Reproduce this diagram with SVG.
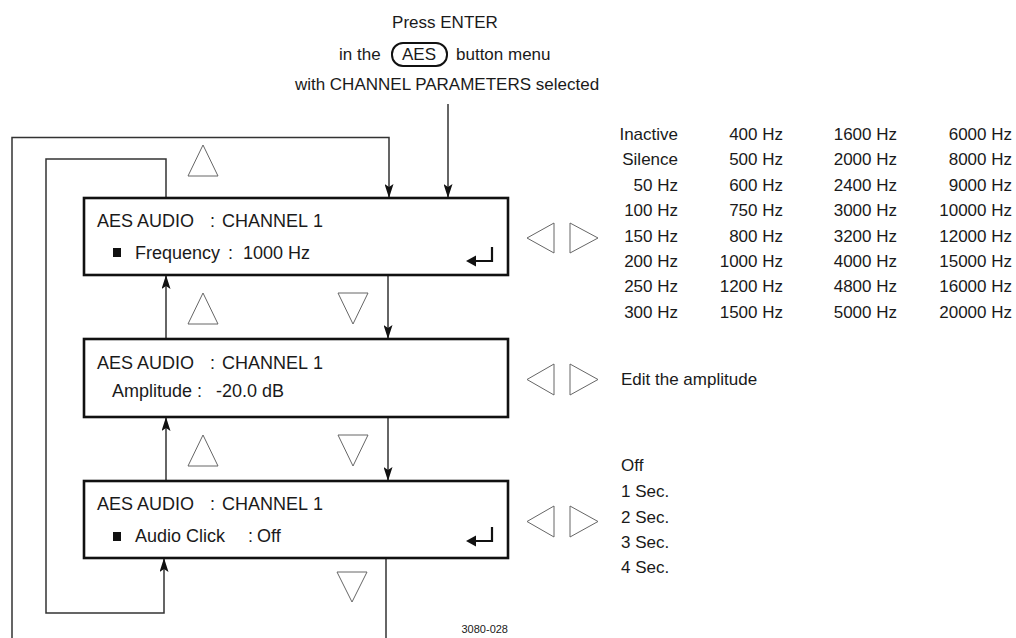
<svg xmlns="http://www.w3.org/2000/svg" width="1016" height="638" viewBox="0 0 1016 638">
<defs>
<style>
text{font-family:"Liberation Sans",Arial,sans-serif;fill:#1a1a1a}
.t{font-size:17px}
.b{font-size:18px}
.r{text-anchor:end}
.m{text-anchor:middle}
.box{fill:#fff;stroke:#111;stroke-width:2.6}
.ln{fill:none;stroke:#333;stroke-width:1.5}
.tri{fill:none;stroke:#666;stroke-width:1}
.ret{fill:none;stroke:#111;stroke-width:2.2}
</style>
<marker id="ah" markerUnits="userSpaceOnUse" markerWidth="14" markerHeight="9" refX="14" refY="4.5" orient="auto" viewBox="0 0 14 9">
<path d="M0,0 L14,4.5 L0,9 L3,4.5 Z" fill="#111"/>
</marker>
</defs>
<rect width="1016" height="638" fill="#fff"/>

<g id="entry-label">
<text class="t m" x="445" y="28">Press ENTER</text>
<text class="t" x="339" y="60">in the</text>
<rect x="392" y="43" width="55" height="23" rx="11" fill="none" stroke="#111" stroke-width="2"/>
<text class="t m" x="419" y="60">AES</text>
<text class="t" x="456" y="60">button menu</text>
<text class="t m" x="447" y="90">with CHANNEL PARAMETERS selected</text>
</g>

<g id="connectors">
<path class="ln" d="M448,104 V198" marker-end="url(#ah)"/>
<path class="ln" d="M12,638 V137.5 H389 V198" marker-end="url(#ah)"/>
<path class="ln" d="M166,198 V159 H46 V613 H164 V558" marker-end="url(#ah)"/>
<path class="ln" d="M166,339 V275" marker-end="url(#ah)"/>
<path class="ln" d="M166,481 V417" marker-end="url(#ah)"/>
<path class="ln" d="M388,275 V339" marker-end="url(#ah)"/>
<path class="ln" d="M388,417 V481" marker-end="url(#ah)"/>
<path class="ln" d="M386,558 V638"/>
</g>

<g id="nav-triangles">
<path class="tri" d="M188,176 L203,145 L218,176 Z"/>
<path class="tri" d="M188,324 L203,293 L218,324 Z"/>
<path class="tri" d="M338,293 L368,293 L353,324 Z"/>
<path class="tri" d="M188,466 L203,435 L218,466 Z"/>
<path class="tri" d="M338,435 L368,435 L353,466 Z"/>
<path class="tri" d="M337,572 L367,572 L352,602 Z"/>
<path class="tri" d="M554,223 L527,238 L554,253 Z"/>
<path class="tri" d="M570,223 L598,238 L570,253 Z"/>
<path class="tri" d="M554,364 L527,379.5 L554,395 Z"/>
<path class="tri" d="M570,364 L598,379.5 L570,395 Z"/>
<path class="tri" d="M554,506 L527,521.5 L554,537 Z"/>
<path class="tri" d="M570,506 L598,521.5 L570,537 Z"/>
</g>

<g id="box-frequency">
<rect class="box" x="84" y="198" width="424" height="77"/>
<text class="b" y="227"><tspan x="97">AES</tspan><tspan x="137">AUDIO</tspan><tspan x="210">:</tspan><tspan x="222">CHANNEL</tspan><tspan x="313">1</tspan></text>
<rect x="113" y="248" width="8" height="9" fill="#111"/>
<text class="b" y="259"><tspan x="135">Frequency</tspan><tspan x="228">:</tspan><tspan x="243">1000 Hz</tspan></text>
<path class="ret" d="M492,247 V261 H474"/>
<path d="M466,261 L476,255.5 L476,266.5 Z" fill="#111"/>
</g>

<g id="box-amplitude">
<rect class="box" x="84" y="339" width="424" height="78"/>
<text class="b" y="369"><tspan x="97">AES</tspan><tspan x="137">AUDIO</tspan><tspan x="210">:</tspan><tspan x="222">CHANNEL</tspan><tspan x="313">1</tspan></text>
<text class="b" y="397"><tspan x="112">Amplitude</tspan><tspan x="197">:</tspan><tspan x="216">-20.0 dB</tspan></text>
</g>

<g id="box-audioclick">
<rect class="box" x="84" y="481" width="424" height="77"/>
<text class="b" y="510"><tspan x="97">AES</tspan><tspan x="137">AUDIO</tspan><tspan x="210">:</tspan><tspan x="222">CHANNEL</tspan><tspan x="313">1</tspan></text>
<rect x="113" y="532" width="8" height="9" fill="#111"/>
<text class="b" y="542"><tspan x="135">Audio Click</tspan><tspan x="248">:</tspan><tspan x="257">Off</tspan></text>
<path class="ret" d="M492,527 V541 H474"/>
<path d="M466,541 L476,535.5 L476,546.5 Z" fill="#111"/>
</g>

<g id="frequency-values">
<text class="t r" x="678" y="140">Inactive</text>
<text class="t r" x="678" y="165.4">Silence</text>
<text class="t r" x="678" y="190.8">50 Hz</text>
<text class="t r" x="678" y="216.2">100 Hz</text>
<text class="t r" x="678" y="241.6">150 Hz</text>
<text class="t r" x="678" y="267">200 Hz</text>
<text class="t r" x="678" y="292.4">250 Hz</text>
<text class="t r" x="678" y="317.8">300 Hz</text>
<text class="t r" x="783" y="140">400 Hz</text>
<text class="t r" x="783" y="165.4">500 Hz</text>
<text class="t r" x="783" y="190.8">600 Hz</text>
<text class="t r" x="783" y="216.2">750 Hz</text>
<text class="t r" x="783" y="241.6">800 Hz</text>
<text class="t r" x="783" y="267">1000 Hz</text>
<text class="t r" x="783" y="292.4">1200 Hz</text>
<text class="t r" x="783" y="317.8">1500 Hz</text>
<text class="t r" x="897" y="140">1600 Hz</text>
<text class="t r" x="897" y="165.4">2000 Hz</text>
<text class="t r" x="897" y="190.8">2400 Hz</text>
<text class="t r" x="897" y="216.2">3000 Hz</text>
<text class="t r" x="897" y="241.6">3200 Hz</text>
<text class="t r" x="897" y="267">4000 Hz</text>
<text class="t r" x="897" y="292.4">4800 Hz</text>
<text class="t r" x="897" y="317.8">5000 Hz</text>
<text class="t r" x="1012" y="140">6000 Hz</text>
<text class="t r" x="1012" y="165.4">8000 Hz</text>
<text class="t r" x="1012" y="190.8">9000 Hz</text>
<text class="t r" x="1012" y="216.2">10000 Hz</text>
<text class="t r" x="1012" y="241.6">12000 Hz</text>
<text class="t r" x="1012" y="267">15000 Hz</text>
<text class="t r" x="1012" y="292.4">16000 Hz</text>
<text class="t r" x="1012" y="317.8">20000 Hz</text>
</g>

<g id="amplitude-note">
<text class="t" x="621" y="385">Edit the amplitude</text>
</g>

<g id="audioclick-values">
<text class="t" x="621" y="471">Off</text>
<text class="t" x="621" y="497">1 Sec.</text>
<text class="t" x="621" y="522.5">2 Sec.</text>
<text class="t" x="621" y="548">3 Sec.</text>
<text class="t" x="621" y="573">4 Sec.</text>
</g>

<text x="508" y="633" font-size="11" text-anchor="end">3080-028</text>
</svg>
